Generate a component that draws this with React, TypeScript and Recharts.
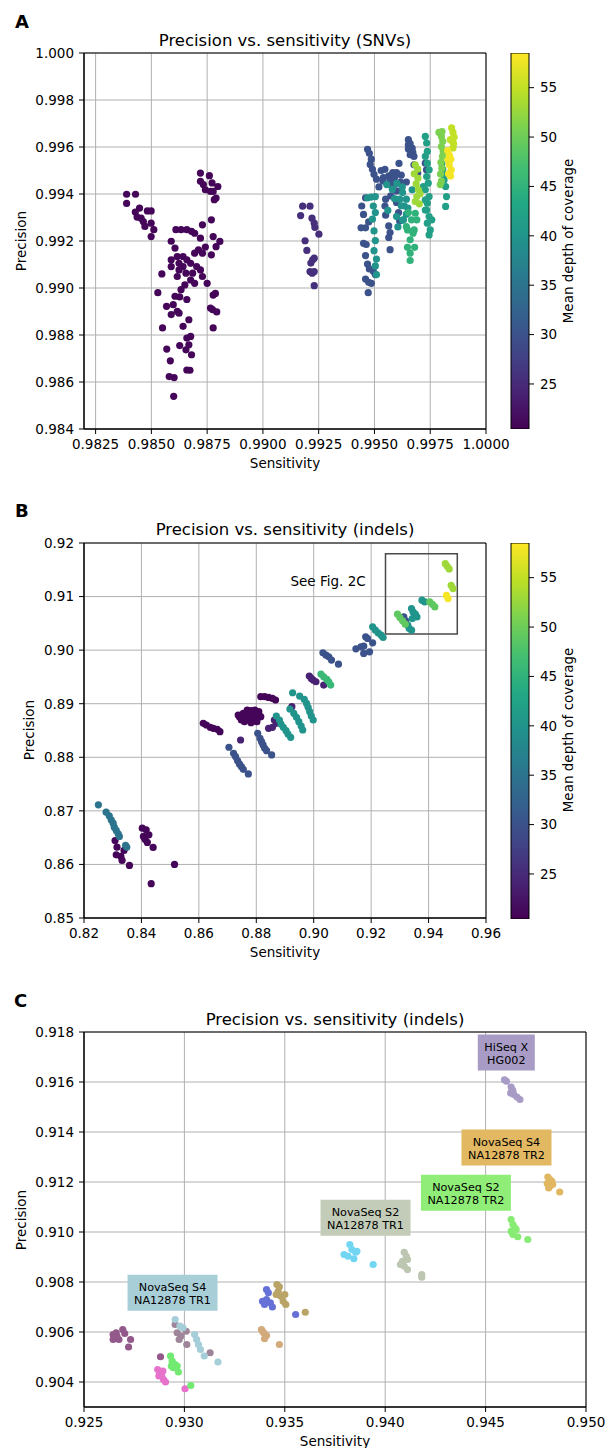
import React from 'react';
import {
  ScatterChart,
  BarChart,
  Bar,
  Scatter,
  XAxis,
  YAxis,
  CartesianGrid,
  ReferenceArea,
  ReferenceDot,
} from 'recharts';

type Pt = [number, number];

const FONT = "'DejaVu Sans', sans-serif";
const TICK_FONT = 13.5;

// colour bar: mean depth of coverage
const depthMin = 20.44;
const depthMax = 58.51;
const depthTicks = [25, 30, 35, 40, 45, 50, 55];
const depthBar = [{ name: 'depth', range: [depthMin, depthMax] }];

const VIRIDIS = ['#440154', '#482475', '#414487', '#355f8d', '#2a788e', '#21918c', '#22a884', '#44bf70', '#7ad151', '#bddf26', '#fde725'];

// ---------- panel A: SNVs ----------
const snvSensDomain = [0.98198, 1.0];
const snvPrecDomain = [0.984, 1.0];
const snvSensTicks = [0.9825, 0.985, 0.9875, 0.99, 0.9925, 0.995, 0.9975, 1.0];
const snvPrecTicks = [0.984, 0.986, 0.988, 0.99, 0.992, 0.994, 0.996, 0.998, 1.0];

const snvDepth21: Pt[] = [
  [0.98389, 0.99399], [0.98429, 0.99399], [0.98389, 0.9936], [0.98447, 0.9934], [0.98428, 0.99323], [0.98436, 0.99302],
  [0.98454, 0.99297], [0.98482, 0.99328], [0.98499, 0.99328], [0.98464, 0.99283], [0.98471, 0.99262], [0.98499, 0.99276],
  [0.98511, 0.99248], [0.98499, 0.99219], [0.98547, 0.9906], [0.98529, 0.9898], [0.98568, 0.98922], [0.98589, 0.98887],
  [0.9855, 0.9883], [0.98569, 0.9874], [0.98585, 0.9869], [0.9858, 0.98623], [0.98602, 0.98619], [0.986, 0.98539],
  [0.98589, 0.99199], [0.98606, 0.9917], [0.9861, 0.99248], [0.98633, 0.99248], [0.98659, 0.99248], [0.9868, 0.99241],
  [0.98589, 0.9912], [0.98589, 0.99091], [0.98616, 0.99134], [0.98624, 0.99105], [0.98642, 0.99134], [0.98659, 0.9912],
  [0.98676, 0.99105], [0.98694, 0.99148], [0.98711, 0.99162], [0.98729, 0.99148], [0.98703, 0.99091], [0.9872, 0.99077],
  [0.98685, 0.99063], [0.98676, 0.99034], [0.98694, 0.9902], [0.98642, 0.99091], [0.98655, 0.99063], [0.98616, 0.99049],
  [0.98624, 0.99077], [0.9865, 0.99013], [0.98633, 0.98993], [0.98606, 0.98965], [0.98627, 0.98962], [0.98598, 0.98929],
  [0.98616, 0.98901], [0.98624, 0.98893], [0.98659, 0.98951], [0.98642, 0.98837], [0.98668, 0.98865], [0.98659, 0.98787],
  [0.98676, 0.98794], [0.98668, 0.98758], [0.98655, 0.98737], [0.9868, 0.98716], [0.98627, 0.98755], [0.98659, 0.98651],
  [0.98673, 0.9865], [0.98729, 0.99269], [0.9872, 0.99212], [0.98742, 0.99174], [0.9875, 0.9902], [0.98729, 0.99049],
  [0.98769, 0.99141], [0.98777, 0.99219], [0.9879, 0.99176], [0.98807, 0.99198], [0.98769, 0.9929], [0.9872, 0.99489],
  [0.9872, 0.99454], [0.98733, 0.9944], [0.98742, 0.99418], [0.9876, 0.99478], [0.98772, 0.99447], [0.98777, 0.99411],
  [0.98798, 0.99432], [0.9879, 0.99383], [0.98782, 0.99376], [0.98765, 0.99411], [0.98787, 0.98977], [0.98777, 0.9897],
  [0.98765, 0.98915], [0.98774, 0.98908], [0.98793, 0.98898], [0.98777, 0.9883], [0.98694, 0.99233],
];
const snvDepth25: Pt[] = [
  [0.99178, 0.99348], [0.99211, 0.99348], [0.99169, 0.99308], [0.9922, 0.99297], [0.9923, 0.99276], [0.99233, 0.99258],
  [0.99251, 0.99229], [0.99189, 0.99201], [0.99197, 0.9916], [0.99223, 0.9912], [0.99215, 0.99106], [0.9923, 0.99127],
  [0.99211, 0.9907], [0.9923, 0.9907], [0.99221, 0.99063], [0.9923, 0.9901],
];
const snvDepth30: Pt[] = [
  [0.99469, 0.9959], [0.99477, 0.99573], [0.99486, 0.99548], [0.99481, 0.99526], [0.99491, 0.99505], [0.99498, 0.99484],
  [0.99509, 0.99463], [0.99547, 0.99505], [0.99564, 0.99477], [0.99582, 0.99491], [0.99599, 0.99491], [0.99538, 0.99455],
  [0.99561, 0.99441], [0.99585, 0.99441], [0.99617, 0.99451], [0.99643, 0.99451], [0.99599, 0.99413], [0.99573, 0.99392],
  [0.9955, 0.99378], [0.99547, 0.99349], [0.9955, 0.9931], [0.99564, 0.99264], [0.9957, 0.99236], [0.99564, 0.99215],
  [0.9957, 0.99163], [0.99599, 0.99364], [0.99608, 0.99321], [0.99613, 0.99285], [0.99443, 0.99349], [0.9946, 0.99384],
  [0.99451, 0.99313], [0.9944, 0.99256], [0.9946, 0.99256], [0.99474, 0.99281], [0.99451, 0.9919], [0.99463, 0.99185],
  [0.9946, 0.99138], [0.99469, 0.99102], [0.99477, 0.99081], [0.9946, 0.99038], [0.99474, 0.99024], [0.99486, 0.9902],
  [0.99472, 0.9898], [0.99495, 0.99071], [0.99504, 0.99057], [0.99652, 0.99631], [0.9966, 0.99614], [0.99669, 0.99595],
  [0.99652, 0.99591], [0.99672, 0.99577], [0.9966, 0.99567], [0.99677, 0.9956], [0.99652, 0.99609], [0.99677, 0.99524],
  [0.99694, 0.99489], [0.99728, 0.99531], [0.99733, 0.99503], [0.9952, 0.9943], [0.9954, 0.9947], [0.9957, 0.9946],
  [0.9959, 0.9947], [0.9962, 0.9948], [0.9961, 0.9953], [0.9953, 0.995],
];
const snvDepth40: Pt[] = [
  [0.99469, 0.99384], [0.99486, 0.99387], [0.99504, 0.99389], [0.99495, 0.99349], [0.99504, 0.99321], [0.99491, 0.99293],
  [0.99498, 0.99243], [0.99504, 0.99202], [0.99498, 0.99159], [0.99509, 0.99123], [0.99504, 0.99094], [0.99509, 0.99057],
  [0.99634, 0.99349], [0.99643, 0.99314], [0.99626, 0.99289], [0.99599, 0.99304], [0.99613, 0.99378], [0.99626, 0.99406],
  [0.99643, 0.99378], [0.99669, 0.99418], [0.99555, 0.9944], [0.9958, 0.9942], [0.996, 0.99445], [0.99625, 0.9943],
  [0.9959, 0.9938], [0.9962, 0.9935], [0.9965, 0.9934], [0.9956, 0.9933], [0.9963, 0.9929], [0.99605, 0.9926],
];
const snvDepth42: Pt[] = [
  [0.99728, 0.99645], [0.99734, 0.99617], [0.99737, 0.99581], [0.99728, 0.9956], [0.99737, 0.99531], [0.99745, 0.99503],
  [0.99734, 0.99474], [0.99741, 0.99446], [0.99728, 0.99418], [0.99745, 0.99389], [0.99737, 0.99361], [0.99734, 0.99332],
  [0.99745, 0.99304], [0.99737, 0.99276], [0.9975, 0.99247], [0.99745, 0.99226], [0.99757, 0.9929], [0.99719, 0.99432],
  [0.99728, 0.99375], [0.99728, 0.99332], [0.99802, 0.9953], [0.99806, 0.99505], [0.9981, 0.99482], [0.99812, 0.9946],
  [0.99819, 0.99432], [0.99823, 0.99389], [0.99819, 0.99347],
];
const snvDepth45: Pt[] = [
  [0.99652, 0.99321], [0.99666, 0.9929], [0.99648, 0.99247], [0.99673, 0.99233], [0.9966, 0.99205], [0.99648, 0.99173],
  [0.9968, 0.99173], [0.9966, 0.99148], [0.9966, 0.99117], [0.99678, 0.99247], [0.99643, 0.99261], [0.9969, 0.9929],
  [0.99683, 0.99318],
];
const snvDepth51: Pt[] = [
  [0.99789, 0.99662], [0.998, 0.99645], [0.99806, 0.99624], [0.998, 0.99602], [0.99808, 0.99581], [0.99805, 0.9956],
  [0.99803, 0.99666], [0.99798, 0.99535], [0.99802, 0.9951], [0.99796, 0.99485], [0.998, 0.99455], [0.99795, 0.9944],
];
const snvDepth53: Pt[] = [
  [0.99683, 0.99524], [0.99694, 0.99506], [0.99678, 0.99486], [0.99695, 0.99467], [0.99687, 0.99443], [0.99697, 0.99418],
  [0.9969, 0.99389], [0.99701, 0.99358], [0.99683, 0.99368], [0.99704, 0.99401],
];
const snvDepth55: Pt[] = [
  [0.99846, 0.99681], [0.99852, 0.99662], [0.99857, 0.99642], [0.99849, 0.99624], [0.99855, 0.99614], [0.9984, 0.99631],
  [0.99852, 0.99596],
];
const snvDepth58: Pt[] = [
  [0.99828, 0.99585], [0.99836, 0.99565], [0.99842, 0.99548], [0.99835, 0.99524], [0.99844, 0.99503], [0.99832, 0.99486],
  [0.99841, 0.99477], [0.9983, 0.99545],
];

// ---------- panel B: indels ----------
const indelSensDomain = [0.82, 0.96];
const indelPrecDomain = [0.85, 0.92];
const indelSensTicks = [0.82, 0.84, 0.86, 0.88, 0.9, 0.92, 0.94, 0.96];
const indelPrecTicks = [0.85, 0.86, 0.87, 0.88, 0.89, 0.9, 0.91, 0.92];

const indelDepth21: Pt[] = [
  [0.83082, 0.86447], [0.8315, 0.86323], [0.83123, 0.8618], [0.83285, 0.86149], [0.83326, 0.86075], [0.83394, 0.86261],
  [0.83583, 0.85982], [0.8403, 0.86677], [0.84165, 0.86646], [0.8407, 0.86522], [0.84124, 0.86472], [0.8426, 0.86553],
  [0.84205, 0.8641], [0.84408, 0.86317], [0.84341, 0.8564], [0.85152, 0.86],
  [0.87412, 0.88758], [0.87547, 0.8882], [0.87683, 0.88851], [0.87818, 0.8887], [0.87953, 0.88882], [0.88089, 0.88851],
  [0.8748, 0.88696], [0.87615, 0.88727], [0.8775, 0.88696], [0.87886, 0.88696], [0.88021, 0.88708], [0.88156, 0.88758],
  [0.87371, 0.88789], [0.87588, 0.88665], [0.87818, 0.88646], [0.88021, 0.88665], [0.87723, 0.88789], [0.87859, 0.88789],
  [0.87994, 0.88789], [0.87683, 0.88882],
  [0.86154, 0.88634], [0.86262, 0.88603], [0.86397, 0.88559], [0.86505, 0.88541], [0.86641, 0.88522], [0.86735, 0.88478],
  [0.88156, 0.89131], [0.88292, 0.89131], [0.88427, 0.89118], [0.88562, 0.89099], [0.8867, 0.89068],
];
const indelDepth24: Pt[] = [
  [0.88427, 0.88541], [0.88562, 0.88559], [0.88697, 0.88634], [0.8863, 0.88696], [0.87453, 0.88323], [0.89239, 0.88944],
  [0.89847, 0.89516], [0.89915, 0.89472], [0.89983, 0.89441], [0.90078, 0.8941], [0.90348, 0.89348],
];
const indelDepth30: Pt[] = [
  [0.87047, 0.88187], [0.87209, 0.88075], [0.87277, 0.88013], [0.87345, 0.87938], [0.87412, 0.87876], [0.8748, 0.87826],
  [0.87547, 0.87776], [0.87723, 0.8769],
  [0.88048, 0.88447], [0.88129, 0.88354], [0.88183, 0.88292], [0.88237, 0.8823], [0.88292, 0.88168], [0.88359, 0.88124],
  [0.88535, 0.88044],
  [0.90321, 0.8995], [0.90429, 0.89907], [0.90524, 0.89876], [0.90619, 0.89814], [0.90862, 0.89739],
  [0.9147, 0.90025], [0.91646, 0.90062], [0.91741, 0.90075], [0.91809, 0.90248], [0.91877, 0.90217], [0.91944, 0.89969],
  [0.91741, 0.89938], [0.92052, 0.90137],
  [0.93069, 0.9059], [0.93205, 0.90547], [0.93137, 0.90621],
];
const indelDepth35: Pt[] = [
  [0.82501, 0.87112], [0.82771, 0.86975], [0.82879, 0.86907], [0.82947, 0.86832], [0.83015, 0.8677], [0.83055, 0.86696],
  [0.83123, 0.86634], [0.83191, 0.86572], [0.83231, 0.86522], [0.83448, 0.86354], [0.83488, 0.86323],
];
const indelDepth40: Pt[] = [
  [0.88697, 0.8877], [0.88806, 0.88696], [0.8886, 0.88621], [0.88941, 0.88559], [0.89036, 0.88497], [0.89103, 0.88435],
  [0.89198, 0.88373],
  [0.89171, 0.88901], [0.89306, 0.8882], [0.89401, 0.88746], [0.89482, 0.88665], [0.89563, 0.88584], [0.89617, 0.88509],
  [0.89266, 0.89205], [0.89509, 0.89143], [0.89671, 0.89081], [0.89752, 0.89006], [0.89806, 0.88932], [0.8986, 0.88851],
  [0.89915, 0.8877], [0.89983, 0.88696],
  [0.92052, 0.90435], [0.92147, 0.90373], [0.92242, 0.90323], [0.9235, 0.9028], [0.92418, 0.90236],
  [0.93278, 0.90466], [0.93326, 0.90404], [0.93408, 0.90373],
  [0.93406, 0.90776], [0.9346, 0.90714], [0.93541, 0.90671], [0.93595, 0.90621], [0.93433, 0.9059],
  [0.93771, 0.90932], [0.93866, 0.90901],
];
const indelDepth46: Pt[] = [
  [0.90253, 0.89553], [0.90348, 0.89503], [0.90456, 0.89454], [0.90524, 0.8941], [0.90591, 0.89348],
];
const indelDepth49: Pt[] = [
  [0.92919, 0.90671], [0.93, 0.90609], [0.93095, 0.90547], [0.93189, 0.90485],
  [0.94042, 0.90901], [0.94136, 0.90857], [0.94218, 0.90807],
];
const indelDepth53: Pt[] = [
  [0.94583, 0.91615], [0.94651, 0.91565], [0.94718, 0.91516], [0.94786, 0.91211], [0.94853, 0.91149],
];
const indelDepth58: Pt[] = [[0.94624, 0.91025], [0.94678, 0.90963]];

// ---------- panel C: indels, zoomed ----------
const zoomSensDomain = [0.925, 0.95];
const zoomPrecDomain = [0.903, 0.918];
const zoomSensTicks = [0.925, 0.93, 0.935, 0.94, 0.945, 0.95];
const zoomPrecTicks = [0.904, 0.906, 0.908, 0.91, 0.912, 0.914, 0.916, 0.918];

const hiseqHG002: Pt[] = [
  [0.94594, 0.91609], [0.94604, 0.91603], [0.94627, 0.9158], [0.94633, 0.91569], [0.94625, 0.91556], [0.9464, 0.9155],
  [0.94656, 0.9154], [0.94671, 0.9153], [0.94636, 0.91563],
];
const novaS4TR2: Pt[] = [
  [0.9481, 0.9122], [0.9482, 0.9121], [0.9483, 0.91203], [0.94807, 0.91194], [0.9482, 0.91183], [0.94834, 0.9119],
  [0.94869, 0.9116], [0.94814, 0.91176],
];
const novaS2TR2: Pt[] = [
  [0.94627, 0.9105], [0.94636, 0.9103], [0.94646, 0.91017], [0.94627, 0.91003], [0.94636, 0.9099], [0.9466, 0.90981],
  [0.9471, 0.9097], [0.94652, 0.9101],
];
const novaS2TR1: Pt[] = [
  [0.94095, 0.90919], [0.94105, 0.90903], [0.94111, 0.9089], [0.94076, 0.9087], [0.94095, 0.90863], [0.94111, 0.9085],
  [0.94182, 0.9083], [0.94182, 0.90819], [0.94086, 0.90883],
];
const runSky: Pt[] = [
  [0.93824, 0.9095], [0.93834, 0.9093], [0.93853, 0.90919], [0.93795, 0.9091], [0.93815, 0.90903], [0.93844, 0.90893],
  [0.9394, 0.9087], [0.93859, 0.90923],
];
const runBlue: Pt[] = [
  [0.93409, 0.9077], [0.93418, 0.90757], [0.93389, 0.90723], [0.93409, 0.9073], [0.93428, 0.90717], [0.93438, 0.907],
  [0.93399, 0.9071], [0.93554, 0.9067],
];
const runKhaki: Pt[] = [
  [0.93461, 0.9079], [0.93473, 0.90781], [0.93457, 0.9075], [0.9348, 0.90743], [0.935, 0.9075], [0.93492, 0.90723],
  [0.93505, 0.9071], [0.93602, 0.90679], [0.93467, 0.90763],
];
const runTan: Pt[] = [
  [0.93384, 0.9061], [0.93395, 0.90597], [0.93409, 0.90586], [0.93399, 0.90573], [0.93473, 0.9055], [0.93389, 0.90603],
];
const runPlum: Pt[] = [
  [0.92645, 0.9059], [0.9266, 0.90597], [0.92674, 0.9057], [0.92645, 0.9057], [0.92693, 0.9061], [0.92703, 0.90594],
  [0.92732, 0.9057], [0.92722, 0.9054], [0.92664, 0.90584], [0.92881, 0.90501],
];
const runMauve: Pt[] = [
  [0.92954, 0.9063], [0.92964, 0.90597], [0.92983, 0.90584], [0.93009, 0.90603], [0.93012, 0.9055], [0.93128, 0.90517],
  [0.92974, 0.9057],
];
const novaS4TR1: Pt[] = [
  [0.92954, 0.9065], [0.92978, 0.90624], [0.93051, 0.9059], [0.93061, 0.9057], [0.9307, 0.9055], [0.9308, 0.9053],
  [0.93099, 0.90504], [0.93167, 0.9048], [0.92993, 0.90617],
];
const runPink: Pt[] = [
  [0.92867, 0.9045], [0.92877, 0.90437], [0.92887, 0.90424], [0.92896, 0.9041], [0.92906, 0.904], [0.92873, 0.90424],
  [0.93003, 0.90373], [0.92893, 0.90444],
];
const runGreen: Pt[] = [
  [0.92931, 0.90504], [0.92939, 0.90484], [0.92954, 0.9047], [0.92945, 0.90457], [0.92964, 0.90464], [0.9297, 0.9044],
  [0.93032, 0.90386], [0.92935, 0.90464],
];

const zoomRuns = [
  { pts: runPlum, color: '#93598a' },
  { pts: runMauve, color: '#9f8599' },
  { pts: novaS4TR1, color: '#a6ced8' },
  { pts: runPink, color: '#e672cc' },
  { pts: runGreen, color: '#72ea72' },
  { pts: runTan, color: '#d3aa7c' },
  { pts: runBlue, color: '#6571d6' },
  { pts: runKhaki, color: '#b9a366' },
  { pts: runSky, color: '#72d6f2' },
  { pts: novaS2TR1, color: '#bcc6b0' },
  { pts: novaS2TR2, color: '#88ec74' },
  { pts: novaS4TR2, color: '#e2b762' },
  { pts: hiseqHG002, color: '#a89cc6' },
];

const zoomLabels = [
  { x: 0.94603, y: 0.91718, lines: ['HiSeq X', 'HG002'], color: '#a89cc6', w: 57 },
  { x: 0.94604, y: 0.91338, lines: ['NovaSeq S4', 'NA12878 TR2'], color: '#e2b862', w: 90 },
  { x: 0.94402, y: 0.91157, lines: ['NovaSeq S2', 'NA12878 TR2'], color: '#90ee78', w: 90 },
  { x: 0.93902, y: 0.91057, lines: ['NovaSeq S2', 'NA12878 TR1'], color: '#c3ccb8', w: 90 },
  { x: 0.92941, y: 0.90757, lines: ['NovaSeq S4', 'NA12878 TR1'], color: '#a8cfd8', w: 90 },
];

const snvGroups = [
  { depth: 21, pts: snvDepth21 }, { depth: 25.5, pts: snvDepth25 }, { depth: 30, pts: snvDepth30 },
  { depth: 40, pts: snvDepth40 }, { depth: 42, pts: snvDepth42 }, { depth: 45, pts: snvDepth45 },
  { depth: 51, pts: snvDepth51 }, { depth: 53, pts: snvDepth53 }, { depth: 55, pts: snvDepth55 },
  { depth: 58, pts: snvDepth58 },
];
const indelGroups = [
  { depth: 21, pts: indelDepth21 }, { depth: 24, pts: indelDepth24 }, { depth: 30, pts: indelDepth30 },
  { depth: 35, pts: indelDepth35 }, { depth: 40, pts: indelDepth40 }, { depth: 46, pts: indelDepth46 },
  { depth: 49, pts: indelDepth49 }, { depth: 53, pts: indelDepth53 }, { depth: 58, pts: indelDepth58 },
];

const hex = (c: string) => [1, 3, 5].map(i => parseInt(c.slice(i, i + 2), 16));
const viridis = (depth: number) => {
  const t = Math.max(0, Math.min(1, (depth - depthMin) / (depthMax - depthMin))) * 10;
  const i = Math.min(9, Math.floor(t));
  const f = t - i;
  const a = hex(VIRIDIS[i]);
  const b = hex(VIRIDIS[i + 1]);
  const rgb = a.map((v, k) => Math.round(v + (b[k] - v) * f));
  return `rgb(${rgb.join(',')})`;
};

const toXY = (pts: Pt[]) => pts.map(([x, y]) => ({ x, y }));
const dot = (fill: string) => (p: any) => <circle cx={p.cx} cy={p.cy} r={3.6} fill={fill} />;
const tickStyle = { fill: '#000', fontSize: TICK_FONT, fontFamily: FONT };

const axes = (xDom: number[], yDom: number[], xTicks: number[], yTicks: number[], xd: number, yd: number) => [
  <CartesianGrid key="g" stroke="#b0b0b0" strokeWidth={1} />,
  <XAxis key="x" type="number" dataKey="x" domain={xDom} ticks={xTicks} interval={0} allowDataOverflow
    tickFormatter={(v: number) => v.toFixed(xd)} height={30} tickSize={5} tickMargin={5}
    stroke="#000" tick={tickStyle} />,
  <YAxis key="y" type="number" dataKey="y" domain={yDom} ticks={yTicks} interval={0} allowDataOverflow
    tickFormatter={(v: number) => v.toFixed(yd)} width={70} tickSize={5} tickMargin={5}
    stroke="#000" tick={tickStyle} />,
  <ReferenceArea key="frame" x1={xDom[0]} x2={xDom[1]} y1={yDom[0]} y2={yDom[1]}
    fill="none" stroke="#000" strokeWidth={1} ifOverflow="visible" />,
];

const ColorBar = ({ id, top }: { id: string; top: number }) => (
  <div style={{ position: 'absolute', left: 500, top }}>
    <BarChart width={110} height={480} data={depthBar} barCategoryGap={0}
      margin={{ top: 53, right: 0, bottom: 51, left: 11 }}>
      <defs>
        <linearGradient id={id} x1="0" y1="1" x2="0" y2="0">
          {VIRIDIS.map((c, i) => <stop key={c} offset={`${i * 10}%`} stopColor={c} />)}
        </linearGradient>
      </defs>
      <XAxis dataKey="name" hide />
      <YAxis type="number" orientation="right" domain={[depthMin, depthMax]} ticks={depthTicks} interval={0}
        allowDataOverflow width={81} tickSize={5} tickMargin={6} stroke="#000" axisLine={false} tick={tickStyle} />
      <Bar dataKey="range" fill={`url(#${id})`} stroke="#000" strokeWidth={1} isAnimationActive={false} />
    </BarChart>
  </div>
);

const txt = { fontFamily: FONT, fill: '#000' } as const;

export default function App() {
  return (
    <div style={{ position: 'absolute', left: 0, top: 0, width: 610, height: 1448, background: '#fff' }}>
      {/* A */}
      <div style={{ position: 'absolute', left: 0, top: 0 }}>
        <ScatterChart width={520} height={480} margin={{ top: 53, right: 34, bottom: 21, left: 14 }}>
          {axes(snvSensDomain, snvPrecDomain, snvSensTicks, snvPrecTicks, 4, 3)}
          {snvGroups.map(g => (
            <Scatter key={g.depth} data={toXY(g.pts)} shape={dot(viridis(g.depth))} isAnimationActive={false} />
          ))}
        </ScatterChart>
      </div>
      <ColorBar id="cbA" top={0} />

      {/* B */}
      <div style={{ position: 'absolute', left: 0, top: 490 }}>
        <ScatterChart width={520} height={480} margin={{ top: 53, right: 34, bottom: 22, left: 14 }}>
          {axes(indelSensDomain, indelPrecDomain, indelSensTicks, indelPrecTicks, 2, 2)}
          {indelGroups.map(g => (
            <Scatter key={g.depth} data={toXY(g.pts)} shape={dot(viridis(g.depth))} isAnimationActive={false} />
          ))}
          <ReferenceArea x1={0.925} x2={0.95} y1={0.903} y2={0.918} fill="none" stroke="#4a4a4a" strokeWidth={1.5}
            ifOverflow="visible" />
          <ReferenceDot x={0.905} y={0.9129} r={0} ifOverflow="visible"
            shape={(p: any) => (
              <text x={p.cx} y={p.cy} textAnchor="middle" dominantBaseline="central" fontSize={TICK_FONT} {...txt}>
                See Fig. 2C
              </text>
            )} />
        </ScatterChart>
      </div>
      <ColorBar id="cbB" top={490} />

      {/* C */}
      <div style={{ position: 'absolute', left: 0, top: 980 }}>
        <ScatterChart width={610} height={468} margin={{ top: 52, right: 24, bottom: 11, left: 14 }}>
          {axes(zoomSensDomain, zoomPrecDomain, zoomSensTicks, zoomPrecTicks, 3, 3)}
          {zoomRuns.map(r => (
            <Scatter key={r.color} data={toXY(r.pts)} shape={dot(r.color)} isAnimationActive={false} />
          ))}
          {zoomLabels.map(l => (
            <ReferenceDot key={l.lines.join()} x={l.x} y={l.y} r={0} ifOverflow="visible"
              shape={(p: any) => (
                <g>
                  <rect x={p.cx - l.w / 2} y={p.cy - 18} width={l.w} height={36} fill={l.color} />
                  <text x={p.cx} y={p.cy - 2} textAnchor="middle" fontSize={11.2} {...txt}>{l.lines[0]}</text>
                  <text x={p.cx} y={p.cy + 11} textAnchor="middle" fontSize={11.2} {...txt}>{l.lines[1]}</text>
                </g>
              )} />
          ))}
        </ScatterChart>
      </div>

      {/* titles, axis labels, panel letters */}
      <svg width={610} height={1448} style={{ position: 'absolute', left: 0, top: 0, pointerEvents: 'none' }}>
        <g {...txt}>
          <text x={15} y={28} fontSize={18} fontWeight="bold">A</text>
          <text x={15} y={517} fontSize={18} fontWeight="bold">B</text>
          <text x={14} y={1007} fontSize={18} fontWeight="bold">C</text>

          <text x={285} y={46} fontSize={16.5} textAnchor="middle">Precision vs. sensitivity (SNVs)</text>
          <text x={285} y={535} fontSize={16.5} textAnchor="middle">Precision vs. sensitivity (indels)</text>
          <text x={335} y={1025} fontSize={16.5} textAnchor="middle">Precision vs. sensitivity (indels)</text>

          <text x={285} y={468} fontSize={TICK_FONT} textAnchor="middle">Sensitivity</text>
          <text x={285} y={957} fontSize={TICK_FONT} textAnchor="middle">Sensitivity</text>
          <text x={335} y={1446} fontSize={TICK_FONT} textAnchor="middle">Sensitivity</text>

          <text transform="translate(26,241) rotate(-90)" fontSize={TICK_FONT} textAnchor="middle">Precision</text>
          <text transform="translate(34,730) rotate(-90)" fontSize={TICK_FONT} textAnchor="middle">Precision</text>
          <text transform="translate(26,1220) rotate(-90)" fontSize={TICK_FONT} textAnchor="middle">Precision</text>

          <text transform="translate(573,241) rotate(-90)" fontSize={TICK_FONT} textAnchor="middle">Mean depth of coverage</text>
          <text transform="translate(573,730) rotate(-90)" fontSize={TICK_FONT} textAnchor="middle">Mean depth of coverage</text>
        </g>
      </svg>
    </div>
  );
}
